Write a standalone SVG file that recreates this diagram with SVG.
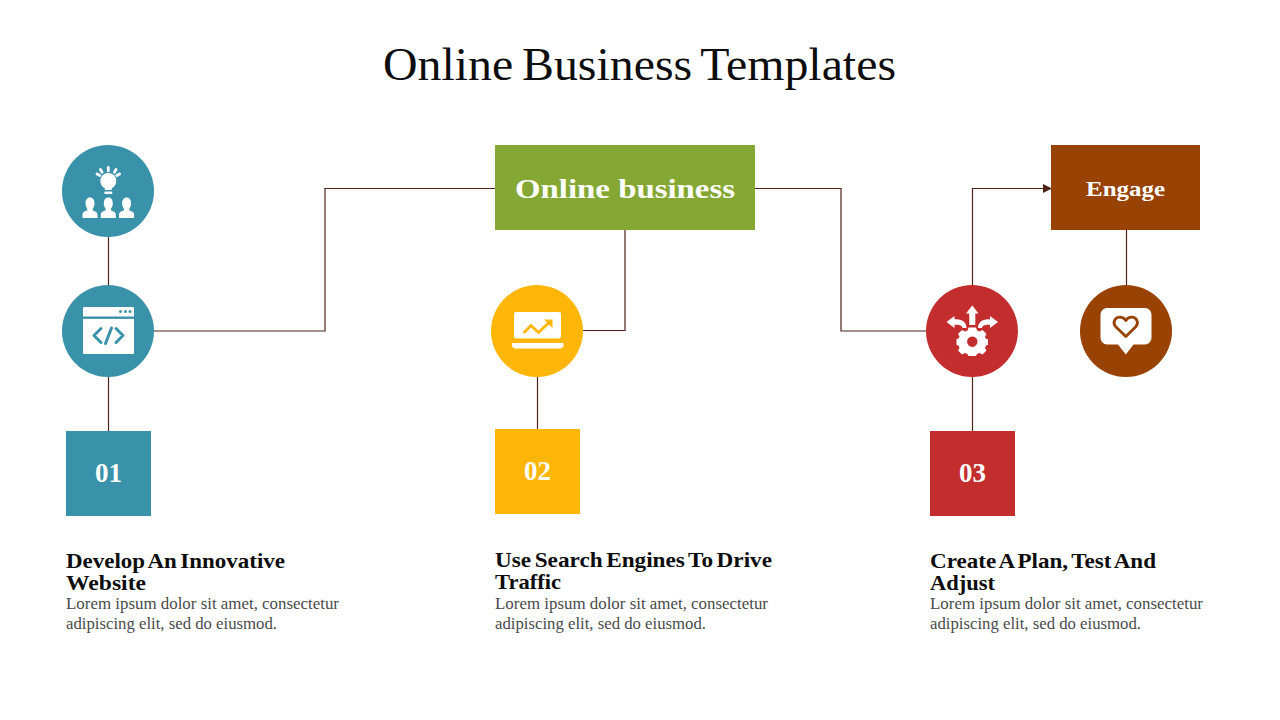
<svg xmlns="http://www.w3.org/2000/svg" width="1280" height="720" viewBox="0 0 1280 720">
<style>
text{font-family:"Liberation Serif",serif}
.title{font-size:47px;fill:#0d0d0d;word-spacing:-3px}
.lab{font-weight:bold;fill:#fff;text-anchor:middle}
.num{font-size:27px}
.head{font-size:21px;font-weight:bold;fill:#0d0d0d;word-spacing:-2px}
.body{font-size:17.5px;fill:#4a4a4a}
.conn{fill:none;stroke:#4f2318;stroke-width:1.2}
.w{fill:#fff}
</style>
<defs>
<marker id="arr" markerUnits="userSpaceOnUse" markerWidth="10" markerHeight="10" refX="9" refY="4.500" orient="auto"><path d="M0 0L9 4.500L0 9Z" fill="#4f2318"/></marker>
<path id="person" d="M0-19.500c3 0 4.500 2.600 4.500 5.800c0 2.500-1 4.300-1.800 5.500v1.400c2.300 1.200 4.800 1.600 4.800 4.300v3.500H-7.500v-3.500c0-2.700 2.500-3.100 4.800-4.300v-1.400c-.8-1.200-1.800-3-1.800-5.500c0-3.200 1.500-5.800 4.500-5.800Z"/>
</defs>
<text class="title" x="383" y="80" textLength="513" lengthAdjust="spacingAndGlyphs">Online Business Templates</text>
<g id="connectors">
<path class="conn" d="M108.500 237V285"/>
<path class="conn" d="M108.500 377V431"/>
<path class="conn" d="M154 331H325V188.500H495"/>
<path class="conn" d="M625 230V330.500H583"/>
<path class="conn" d="M537.500 377V429"/>
<path class="conn" d="M755 188.500H841V331H926"/>
<path class="conn" d="M972.500 285V188.500H1052" marker-end="url(#arr)"/>
<path class="conn" d="M972.500 377V431"/>
<path class="conn" d="M1126.500 230V285"/>
</g>
<g id="node-idea">
<circle cx="108" cy="191" r="46" fill="#3a92aa"/>
<circle class="w" cx="108.300" cy="181" r="8"/>
<rect class="w" x="104.800" y="185" width="7" height="5"/>
<rect class="w" x="104.300" y="191.500" width="8" height="2.600" rx="1"/>
<path d="M108.300 167.500v3.400M100.500 169.500l1.600 2.700M116 169.500l-1.600 2.700M97 174l2.800 1.500M119.600 174l-2.800 1.500" stroke="#fff" stroke-width="2.800" stroke-linecap="round"/>
<use href="#person" x="90" y="217" class="w"/>
<use href="#person" x="108.300" y="217" class="w"/>
<use href="#person" x="126.600" y="217" class="w"/>
</g>
<g id="node-code">
<circle cx="108" cy="331" r="46" fill="#3a92aa"/>
<rect class="w" x="83" y="307" width="51" height="47" rx="1"/>
<rect x="83" y="316.500" width="51" height="2.400" fill="#3a92aa"/>
<g fill="#3a92aa"><circle cx="120.500" cy="311.500" r="1.500"/><circle cx="125.500" cy="311.500" r="1.500"/><circle cx="130" cy="311.500" r="1.500"/></g>
<path d="M101 328.500L94 335.500L101 342.500M116 328.500L123 335.500L116 342.500M111.500 328L105.500 343.500" fill="none" stroke="#3a92aa" stroke-width="3" stroke-linecap="round" stroke-linejoin="round"/>
</g>
<g id="node-chart">
<circle cx="537" cy="331" r="46" fill="#ffb606"/>
<rect class="w" x="514" y="312" width="47" height="26.500" rx="2"/>
<path class="w" d="M512 343H563.500V345C563.500 347 562 348.500 560 348.500H515.500C513.500 348.500 512 347 512 345Z"/>
<path d="M524.500 332L531 325.500L538.500 332.500L550 321.500" fill="none" stroke="#ffb606" stroke-width="3" stroke-linecap="round" stroke-linejoin="round"/>
<path d="M544 319.500H552.500V328Z" fill="#ffb606"/>
</g>
<g id="node-plan">
<circle cx="972" cy="331" r="46" fill="#c32d2e"/>
<path class="w" d="M972.300 305.500L978.500 313.500H975.300V325H969.300V313.500H966Z"/>
<path class="w" d="M946.500 322L954.500 316V319.300C960 319.300 966.500 320.500 966.500 328H962.500C962 325 959 324.800 954.500 324.800V328Z"/>
<path class="w" d="M998 322L990 316V319.300C984.500 319.300 978 320.500 978 328H982C982.500 325 985.500 324.800 990 324.800V328Z"/>
<path class="w" fill-rule="evenodd" d="M968.500 327.500H976L977 330.500L979.500 331.500L982.500 330L986.500 334L985 336.500L986 339H988V345L986 345.500L985 348L986.500 350.500L982.500 354.500L979.500 353L977 354L976 356H968.500L967.500 354L965 353L962 354.500L958 350.500L959.500 348L958.500 345.500L956.500 345V339L958.500 338.500L959.500 336.500L958 334L962 330L965 331.500L967.500 330.500ZM972.300 336.500a5.200 5.200 0 1 0 .01 0Z"/>
</g>
<g id="node-heart">
<circle cx="1126" cy="331" r="46" fill="#984203"/>
<path class="w" d="M1107 308H1145a6.500 6.500 0 0 1 6.500 6.500V338a6.500 6.500 0 0 1 -6.500 6.500H1133.500L1125.800 354.500L1118 344.500H1107a6.500 6.500 0 0 1 -6.500-6.500V314.500A6.500 6.500 0 0 1 1107 308Z"/>
<path d="M1125.800 336.500L1115.500 326.500C1112 322 1115.500 317 1120 317.200C1122.500 317.300 1124.500 318.500 1125.800 320.500C1127 318.500 1129 317.300 1131.500 317.200C1136 317 1139.500 322 1136 326.500Z" fill="#fff" stroke="#984203" stroke-width="2.800" stroke-linejoin="round"/>
</g>
<g id="node-online">
<rect x="495" y="145" width="260" height="85" fill="#84a833"/>
<text class="lab" x="625" y="198" font-size="28" textLength="220" lengthAdjust="spacingAndGlyphs">Online business</text>
</g>
<g id="node-engage">
<rect x="1051" y="145" width="149" height="85" fill="#984203"/>
<text class="lab" x="1125.500" y="196" font-size="22" textLength="79" lengthAdjust="spacingAndGlyphs">Engage</text>
</g>
<g id="step-1">
<rect x="66" y="431" width="85" height="85" fill="#3a92aa"/>
<text class="lab num" x="108.500" y="482">01</text>
<text class="head" x="66" y="568" textLength="219" lengthAdjust="spacingAndGlyphs">Develop An Innovative</text>
<text class="head" x="66" y="590" textLength="80" lengthAdjust="spacingAndGlyphs">Website</text>
<text class="body" x="66" y="609" textLength="273" lengthAdjust="spacingAndGlyphs">Lorem ipsum dolor sit amet, consectetur</text>
<text class="body" x="66" y="629" textLength="211" lengthAdjust="spacingAndGlyphs">adipiscing elit, sed do eiusmod.</text>
</g>
<g id="step-2">
<rect x="495" y="429" width="85" height="85" fill="#ffb606"/>
<text class="lab num" x="537.500" y="480">02</text>
<text class="head" x="495" y="567" textLength="277" lengthAdjust="spacingAndGlyphs">Use Search Engines To Drive</text>
<text class="head" x="495" y="589" textLength="66" lengthAdjust="spacingAndGlyphs">Traffic</text>
<text class="body" x="495" y="609" textLength="273" lengthAdjust="spacingAndGlyphs">Lorem ipsum dolor sit amet, consectetur</text>
<text class="body" x="495" y="629" textLength="211" lengthAdjust="spacingAndGlyphs">adipiscing elit, sed do eiusmod.</text>
</g>
<g id="step-3">
<rect x="930" y="431" width="85" height="85" fill="#c32d2e"/>
<text class="lab num" x="972.500" y="482">03</text>
<text class="head" x="930" y="568" textLength="226" lengthAdjust="spacingAndGlyphs">Create A Plan, Test And</text>
<text class="head" x="930" y="590" textLength="65" lengthAdjust="spacingAndGlyphs">Adjust</text>
<text class="body" x="930" y="609" textLength="273" lengthAdjust="spacingAndGlyphs">Lorem ipsum dolor sit amet, consectetur</text>
<text class="body" x="930" y="629" textLength="211" lengthAdjust="spacingAndGlyphs">adipiscing elit, sed do eiusmod.</text>
</g>
</svg>
